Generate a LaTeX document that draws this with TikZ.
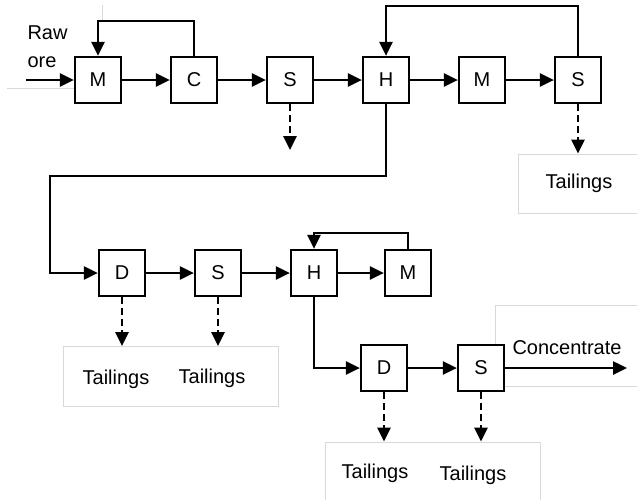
\documentclass[tikz,border=0pt]{standalone}
\usepackage{fontspec}
\setmainfont{Liberation Sans}
\usetikzlibrary{arrows.meta}

\begin{document}
\begin{tikzpicture}[x=1pt,y=-1pt,font=\fontsize{20}{22}\selectfont]
        \tikzset{unit/.style={draw,fill=white,line width=2.2pt,minimum size=46pt,inner sep=0pt},
        flow/.style={line width=2.5pt,-{Triangle[length=14pt,width=13pt]}},
        waste/.style={flow,dash pattern=on 7pt off 4pt},
        outbox/.style={draw=black!15,line width=0.8pt,fill=white,inner sep=0pt}}
        \useasboundingbox (0,0) rectangle (637,499);
        % faint frames around the texts
        \draw[black!15,line width=0.8pt] (7,88) -- (74,88) (102,5) -- (102,20);
        \node[outbox,minimum width=122pt,minimum height=59pt] (tail1) at (579,183.5) {Tailings};
        \node[outbox,minimum width=215pt,minimum height=60pt] (tail2) at (170.5,376.5) {};
        \node[outbox,minimum width=215pt,minimum height=80pt] (tail3) at (432.5,482) {};
        \node[outbox,minimum width=145pt,minimum height=81pt] (conc) at (567.5,345.5) {};
        \node (t2a) at (116,379) {Tailings};
        \node (t2b) at (212,378) {Tailings};
        \node (t3a) at (375,473) {Tailings};
        \node (t3b) at (473,475) {Tailings};
        \node (product) at (567,348) {Concentrate};
        \node[align=left,anchor=north west,font=\fontsize{20}{28}\selectfont] (raw) at (24,22) {Raw\\ore};
        % first line
        \node[unit] (M1) at (98,80) {M};
        \node[unit] (C1) at (194,80) {C};
        \node[unit] (S1) at (290,80) {S};
        \node[unit] (H1) at (386,80) {H};
        \node[unit] (M2) at (482,80) {M};
        \node[unit] (S2) at (578,80) {S};
        % second line
        \node[unit] (D2) at (122,273) {D};
        \node[unit] (S3) at (218,273) {S};
        \node[unit] (H2) at (314,273) {H};
        \node[unit] (M3) at (408,273) {M};
        % third line
        \node[unit] (D3) at (384,368) {D};
        \node[unit] (S4) at (481,368) {S};
        \coordinate (feed) at (26,80);
        \coordinate (bend) at (50,176);
        \coordinate (out) at (627,368);
        \draw[flow] (feed) -- (M1);
        \draw[flow] (M1) -- (C1);
        \draw[flow] (C1) -- (S1);
        \draw[flow] (S1) -- (H1);
        \draw[flow] (H1) -- (M2);
        \draw[flow] (M2) -- (S2);
        \draw[flow] (C1.north) -- ++(0,-35) -| (M1.north);
        \draw[flow] (S2.north) -- ++(0,-50) -| (H1.north);
        \draw[flow] (H1.south) |- (bend) |- (D2);
        \draw[flow] (D2) -- (S3);
        \draw[flow] (S3) -- (H2);
        \draw[flow] (H2) -- (M3);
        \draw[flow] (M3.north) -- ++(0,-16) -| (H2.north);
        \draw[flow] (H2.south) |- (D3);
        \draw[flow] (D3) -- (S4);
        \draw[flow] (S4) -- (out);
        \draw[waste] (S1.south) -- ++(0,46);
        \draw[waste] (S2.south) -- (S2.south |- tail1.north);
        \draw[waste] (D2.south) -- (D2.south |- tail2.north);
        \draw[waste] (S3.south) -- (S3.south |- tail2.north);
        \draw[waste] (D3.south) -- (D3.south |- tail3.north);
        \draw[waste] (S4.south) -- (S4.south |- tail3.north);
\end{tikzpicture}
\end{document}
